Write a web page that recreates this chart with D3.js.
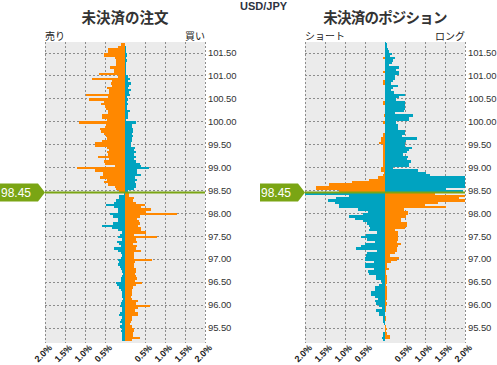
<!DOCTYPE html>
<html><head><meta charset="utf-8">
<script src="https://cdn.jsdelivr.net/npm/d3@7"></script>
<style>body{margin:0;background:#fff}svg{display:block}</style>
</head><body><svg id="c" width="497" height="365"></svg>
<script>
const symbol = "USD/JPY";
const currentPrice = 98.45;
const bucketSize = 0.05;
const topPrice = 101.75;
const priceTicks = [95.5, 96, 96.5, 97, 97.5, 98, 98.5, 99, 99.5, 100, 100.5, 101, 101.5];
const pctTicks = [-2, -1.5, -1, -0.5, 0.5, 1, 1.5, 2];
const orderTitle = "未決済の注文", positionTitle = "未決済のポジション";
const orderSides = ["売り", "買い"], positionSides = ["ショート", "ロング"];

// Buckets above the current price, top to bottom (101.75 → 98.45)
const orderAboveLeft = [0, 0.10, 0.18, 0.43, 0.43, 0.53, 0.53, 0.25, 0.22, 0.23, 0.23, 0.38, 0.27, 0.27, 0.65, 0.18, 0.83, 0.33, 0.35, 0.32, 0.45, 0.40, 0.40, 0.98, 0.43, 0.90, 0.52, 0.60, 0.50, 0.47, 0.42, 0.43, 0.57, 0.58, 0.45, 1.15, 0.48, 0.50, 0.63, 0.60, 0.52, 0.48, 0.46, 0.58, 0.75, 0.75, 0.45, 0.40, 0.45, 0.43, 0.67, 0.40, 0.52, 0.50, 0.25, 1.20, 0.75, 0.55, 0.55, 0.63, 0.44, 0.53, 0.43, 0.25, 0.22, 0.15];
const orderAboveRight = [0, 0.01, 0.02, 0.03, 0.03, 0.04, 0.04, 0.03, 0.05, 0.02, 0.02, 0.02, 0.02, 0.03, 0.02, 0.08, 0.13, 0.08, 0.15, 0.10, 0.08, 0.15, 0.10, 0.13, 0.06, 0.08, 0.06, 0.08, 0.06, 0.06, 0.13, 0.08, 0.07, 0.08, 0.03, 0.28, 0.17, 0.17, 0.20, 0.20, 0.18, 0.20, 0.17, 0.18, 0.15, 0.15, 0.25, 0.22, 0.28, 0.23, 0.27, 0.23, 0.27, 0.38, 0.39, 0.60, 0.30, 0.30, 0.40, 0.25, 0.29, 0.25, 0.28, 0.27, 0.22, 0.07];
const posAboveLeft = [0, 0, 0, 0, 0, 0, 0, 0.04, 0, 0, 0, 0, 0, 0.04, 0, 0, 0, 0.06, 0.06, 0, 0, 0, 0, 0, 0, 0, 0.06, 0.06, 0, 0, 0, 0, 0.03, 0, 0, 0.04, 0, 0, 0, 0, 0.04, 0.06, 0.09, 0.09, 0.14, 0.06, 0.06, 0.06, 0.04, 0.06, 0.06, 0.04, 0.04, 0.04, 0.04, 0.09, 0.09, 0.02, 0.04, 0.18, 0.39, 0.83, 1.39, 1.73, 1.73, 1.14];
const posAboveRight = [0.03, 0.04, 0.05, 0.07, 0.11, 0.18, 0.13, 0.26, 0.21, 0.18, 0.11, 0.36, 0.28, 0.36, 0.36, 0.26, 0.26, 0.19, 0.14, 0.33, 0.19, 0.16, 0.23, 0.51, 0.36, 0.28, 0.50, 0.49, 0.49, 0.51, 0.48, 0.26, 0.71, 0.61, 0.59, 0.28, 0.33, 0.33, 0.33, 0.51, 0.49, 0.43, 0.80, 0.53, 0.49, 0.49, 0.68, 0.59, 0.56, 0.46, 0.58, 0.54, 0.66, 0.61, 0.61, 0.19, 0.83, 1.03, 1.13, 2.3, 2.3, 2.4, 2.5, 2.2, 1.53, 1.96];

// Buckets below the current price, top to bottom (98.45 → 95.15)
const orderBelowLeft = [0.03, 0.15, 0.15, 0.22, 0.27, 0.48, 0.27, 0.18, 0.18, 0.38, 0.30, 0.17, 0.18, 0.30, 0.57, 0.33, 0.18, 0.07, 0.12, 0.17, 0.07, 0.19, 0.15, 0.11, 0.28, 0.17, 0.11, 0.07, 0.10, 0.17, 0.15, 0.18, 0.13, 0.10, 0.07, 0.05, 0.08, 0.11, 0.10, 0.23, 0.20, 0.15, 0.11, 0.08, 0.08, 0.07, 0.05, 0.07, 0.11, 0.13, 0.07, 0.08, 0.13, 0.15, 0.08, 0.10, 0.12, 0.08, 0.12, 0.08, 0.11, 0.07, 0.08, 0.08, 0.07, 0];
const orderBelowRight = [0.10, 0.10, 0.23, 0.21, 0.27, 0.50, 0.39, 0.65, 0.52, 1.29, 0.37, 0.29, 0.35, 0.38, 0.32, 0.39, 0.40, 0.52, 0.23, 0.81, 0.27, 0.29, 0.20, 0.29, 0.27, 0.40, 0.23, 0.23, 0.22, 0.67, 0.25, 0.23, 0.23, 0.27, 0.27, 0.26, 0.28, 0.30, 0.25, 0.42, 0.27, 0.19, 0.17, 0.17, 0.17, 0.15, 0.17, 0.33, 0.27, 0.62, 0.33, 0.25, 0.32, 0.32, 0.18, 0.18, 0.15, 0.13, 0.18, 0.23, 0.23, 0.20, 0.20, 0.37, 0.18, 0];
const posBelowLeft = [2.1, 0.89, 1.23, 1.43, 1.24, 1.16, 1.16, 0.67, 0.43, 0.56, 0.89, 0.74, 0.56, 0.46, 0.39, 0.38, 0.39, 0.19, 0.48, 0.59, 0.46, 0.26, 0.51, 0.59, 0.72, 0.19, 0.46, 0.48, 0.49, 0.49, 0.28, 0.51, 0.51, 0.28, 0.43, 0.41, 0.23, 0.23, 0.10, 0.08, 0.14, 0.24, 0.24, 0.34, 0.34, 0.26, 0.18, 0.26, 0.23, 0.14, 0.08, 0.23, 0.14, 0.14, 0.06, 0.06, 0.04, 0.02, 0.01, 0, 0, 0.06, 0.06, 0.07, 0.06, 0];
const posBelowRight = [1.25, 2.1, 1.86, 2.05, 1.32, 1.00, 1.53, 0.48, 0.57, 0.58, 0.53, 0.41, 0.40, 0.54, 0.54, 0.49, 0.26, 0.32, 0.33, 0.33, 0.33, 0.29, 0.41, 0.33, 0.31, 0.31, 0.25, 0.13, 0.34, 0.29, 0.16, 0.06, 0.06, 0.09, 0.03, 0.03, 0.06, 0.04, 0.04, 0.04, 0.03, 0.04, 0.04, 0.04, 0.04, 0.04, 0.04, 0.03, 0.04, 0.03, 0.03, 0.03, 0.01, 0.01, 0.03, 0.03, 0.01, 0.01, 0.03, 0.04, 0.03, 0.05, 0.13, 0.13, 0.01, 0];

const ORANGE = "#ff8800", TEAL = "#00a3c0", GREEN = "#7aa514";
const svg = d3.select("#c");
const plotTop = 42, plotBottom = 343;
const y = d3.scaleLinear().domain([95.5, 101.5]).range([327.7, 52.5]);

function buckets(start, left, right, leftColor, rightColor) {
  return left.map((v, i) => ({
    low: +(start - (i + 1) * bucketSize).toFixed(2),
    left: v, right: right[i], leftColor, rightColor
  }));
}

svg.append("defs").selectAll("clipPath").data([["clipL", 45], ["clipR", 305]]).join("clipPath")
  .attr("id", d => d[0]).append("rect")
  .attr("x", d => d[1]).attr("y", plotTop).attr("width", 160).attr("height", plotBottom - plotTop);

function panel(x0, clipId, title, titleSpacing, sides, aboveL, aboveR, belowL, belowR) {
  const x = d3.scaleLinear().domain([-2, 2]).range([x0, x0 + 160]);
  const g = svg.append("g");
  g.append("rect").attr("x", x0).attr("y", plotTop).attr("width", 160).attr("height", plotBottom - plotTop).attr("fill", "#ebebeb");
  g.append("g").selectAll("line").data(priceTicks).join("line")
    .attr("x1", x0).attr("x2", x0 + 160)
    .attr("y1", d => Math.round(y(d)) + 0.5).attr("y2", d => Math.round(y(d)) + 0.5)
    .attr("stroke", "#8c8c8c").attr("stroke-dasharray", "2,2").attr("shape-rendering", "crispEdges");
  g.append("g").selectAll("line").data(pctTicks).join("line")
    .attr("x1", d => Math.round(x(d)) + 0.5).attr("x2", d => Math.round(x(d)) + 0.5)
    .attr("y1", plotTop).attr("y2", plotBottom)
    .attr("stroke", "#8c8c8c").attr("stroke-dasharray", "2,2").attr("shape-rendering", "crispEdges");
  const data = buckets(topPrice, aboveL, aboveR, ORANGE, TEAL)
    .concat(buckets(currentPrice, belowL, belowR, TEAL, ORANGE));
  const bars = g.append("g").attr("clip-path", `url(#${clipId})`).attr("shape-rendering", "crispEdges");
  bars.selectAll("rect.l").data(data.filter(d => d.left > 0)).join("rect").attr("class", "l")
    .attr("x", d => x(-d.left)).attr("width", d => x(0) - x(-d.left))
    .attr("y", d => y(d.low + bucketSize)).attr("height", d => y(d.low) - y(d.low + bucketSize))
    .attr("fill", d => d.leftColor);
  bars.selectAll("rect.r").data(data.filter(d => d.right > 0)).join("rect").attr("class", "r")
    .attr("x", x(0)).attr("width", d => x(d.right) - x(0))
    .attr("y", d => y(d.low + bucketSize)).attr("height", d => y(d.low) - y(d.low + bucketSize))
    .attr("fill", d => d.rightColor);
  g.append("line").attr("x1", x0).attr("x2", x0 + 160)
    .attr("y1", y(currentPrice)).attr("y2", y(currentPrice))
    .attr("stroke", GREEN).attr("stroke-width", 2);
  const ay = g.append("g").attr("transform", `translate(${x0 + 160},0)`)
    .call(d3.axisRight(y).tickValues(priceTicks).tickSize(0).tickPadding(3).tickFormat(d3.format(".2f")));
  ay.select(".domain").remove();
  ay.selectAll("text").attr("font-family", "Liberation Sans, Arial, sans-serif").attr("font-size", 9.5)
    .attr("letter-spacing", -0.1).attr("fill", "#333");
  const ax = g.append("g").attr("transform", `translate(0,${plotBottom})`)
    .call(d3.axisBottom(x).tickValues(pctTicks).tickSize(0).tickFormat(d => Math.abs(d).toFixed(1) + "%"));
  ax.select(".domain").remove();
  ax.selectAll("text").attr("font-family", "Liberation Sans, Arial, sans-serif").attr("font-size", 9)
    .attr("fill", "#222").attr("font-weight", "bold")
    .attr("text-anchor", "end").attr("dy", "0.35em")
    .attr("transform", "translate(5,3) rotate(-45)").attr("y", 0);
  svg.append("text").attr("x", x0 + 80).attr("y", 23).attr("text-anchor", "middle")
    .attr("font-family", "Noto Sans CJK JP").attr("font-weight", "bold").attr("font-size", 14.5)
    .attr("letter-spacing", titleSpacing).attr("fill", "#333").text(title);
  svg.append("text").attr("x", x0).attr("y", 40)
    .attr("font-family", "Noto Sans CJK JP").attr("font-size", 10).attr("fill", "#222").text(sides[0]);
  svg.append("text").attr("x", x0 + 160).attr("y", 40).attr("text-anchor", "end")
    .attr("font-family", "Noto Sans CJK JP").attr("font-size", 10).attr("fill", "#222").text(sides[1]);
}

panel(45, "clipL", orderTitle, 0, orderSides, orderAboveLeft, orderAboveRight, orderBelowLeft, orderBelowRight);
panel(305, "clipR", positionTitle, -0.8, positionSides, posAboveLeft, posAboveRight, posBelowLeft, posBelowRight);

svg.append("text").attr("x", 240).attr("y", 10).attr("font-family", "Liberation Sans, Arial, sans-serif")
  .attr("font-weight", "bold").attr("font-size", 11).attr("fill", "#2d3240").text(symbol);

const yp = y(currentPrice);
[[0, 45], [260, 305]].forEach(([bx, tip]) => {
  svg.append("path")
    .attr("d", `M${bx},${yp - 9}H${tip - 7}L${tip},${yp}L${tip - 7},${yp + 9}H${bx}Z`)
    .attr("fill", GREEN);
  svg.append("text").attr("x", bx + 1).attr("y", yp).attr("dy", "0.36em")
    .attr("font-family", "Liberation Sans, Arial, sans-serif").attr("font-size", 12).attr("fill", "#fff")
    .text(currentPrice.toFixed(2));
});
</script></body></html>
